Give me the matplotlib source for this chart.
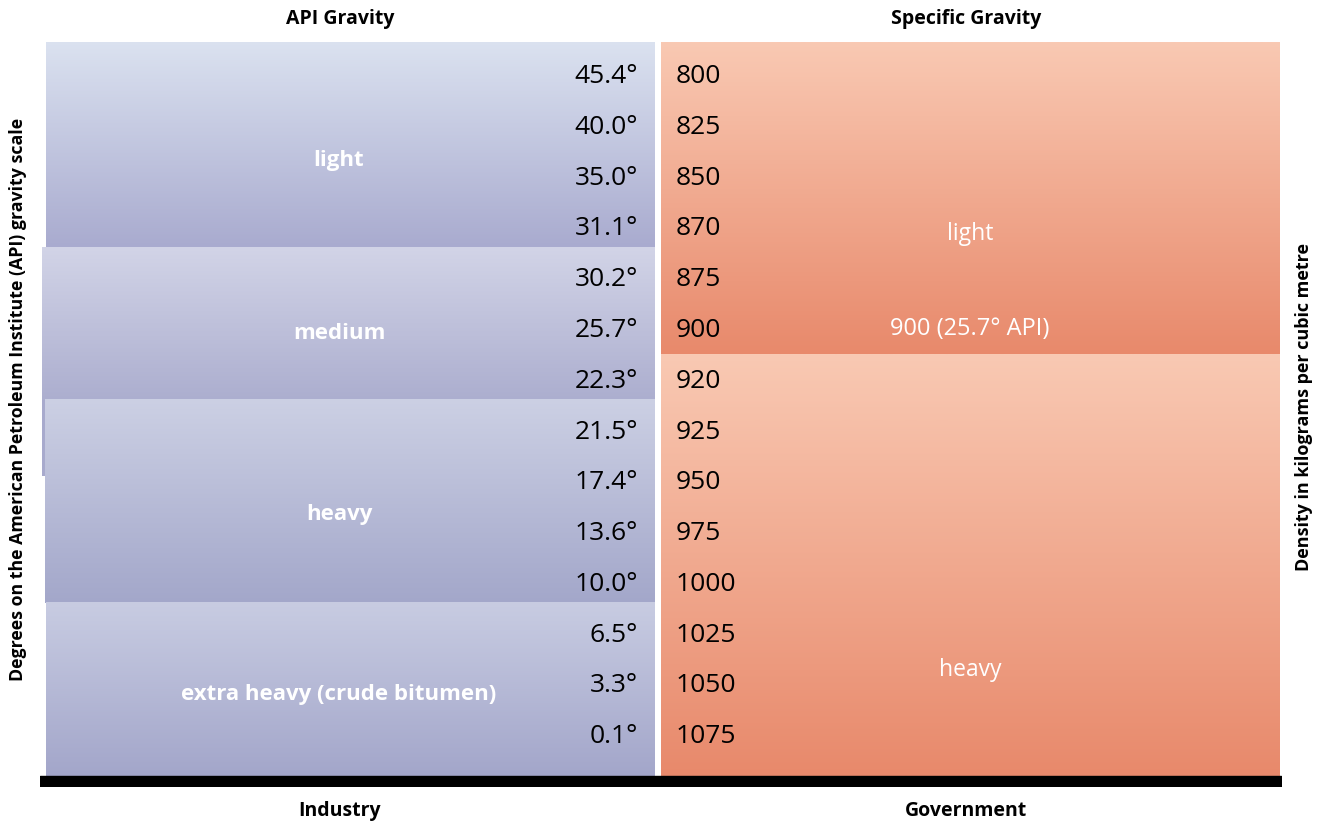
import numpy as np
import matplotlib.pyplot as plt
from matplotlib.colors import LinearSegmentedColormap

# row values, top to bottom
api_values = ['45.4°', '40.0°', '35.0°', '31.1°', '30.2°', '25.7°', '22.3°',
              '21.5°', '17.4°', '13.6°', '10.0°', '6.5°', '3.3°', '0.1°']
density_values = ['800', '825', '850', '870', '875', '900', '920',
                  '925', '950', '975', '1000', '1025', '1050', '1075']

# API classes: (label, first row, last row)
api_classes = ['light', 'medium', 'heavy', 'extra heavy (crude bitumen)']
api_first_row = [0, 4, 7, 11]
api_last_row = [3, 6, 10, 13]

# government classes
gov_classes = ['light', 'heavy']
gov_first_row = [0, 6]
gov_last_row = [5, 13]
gov_boundary_note = '900 (25.7° API)'

plt.rcParams['font.family'] = ['Open Sans', 'DejaVu Sans']

W, H = 1320, 824
fig = plt.figure(figsize=(W / 100, H / 100), dpi=100)
ax = fig.add_axes([40 / W, 1 - 786 / H, 1241 / W, 744 / H])
top, bottom = -0.61, 14.04
floor = 13.84
ax.set_xlim(0, 1241)
ax.set_ylim(bottom, top)
ax.axis('off')

grad = np.linspace(0, 1, 256).reshape(-1, 1)


def gradient_block(x0, x1, y0, y1, c_top, c_bot, z=1):
    cmap = LinearSegmentedColormap.from_list('g', [c_top, c_bot])
    ax.imshow(grad, cmap=cmap, extent=(x0, x1, y1, y0), aspect='auto',
              interpolation='bilinear', zorder=z)


def edge(first, last, shift):
    # block boundaries sit a bit off the midpoint between rows
    y0 = top if first == 0 else first - 1 + shift
    y1 = floor if last == len(api_values) - 1 else last + shift
    return y0, y1


# left column blocks
left_tops = ['#dbe2f0', '#d2d4e7', '#ccd0e4', '#c8cce2']
left_bots = ['#a9abcf', '#acaecf', '#a3a7ca', '#a3a6ca']
left_x0 = [6, 2, 5, 6]
label_nudge = [0.32, 0.2, 0.26, 0.1]
for i, lab in enumerate(api_classes):
    y0, y1 = edge(api_first_row[i], api_last_row[i], 0.43)
    gradient_block(left_x0[i], 615, y0, y1, left_tops[i], left_bots[i], z=1 + i)
    ax.text(299, (y0 + y1) / 2 + label_nudge[i], lab, color='white', fontsize=16,
            fontweight='bold', ha='center', va='center', zorder=10)

# the medium block peeks out a little below its neighbour
ax.fill_between([2, 5], 6.43, 7.93, color='#a8aacd', lw=0, zorder=1)

# right column blocks
for i, lab in enumerate(gov_classes):
    y0, y1 = edge(gov_first_row[i], gov_last_row[i], 0.55)
    gradient_block(621, 1240, y0, y1, '#f9c9b3', '#e8896b', z=1)
ax.text(930, 3.17, gov_classes[0], color='white', fontsize=16.5,
        ha='center', va='center', zorder=10)
ax.text(930, 11.75, gov_classes[1], color='white', fontsize=16.5,
        ha='center', va='center', zorder=10)
ax.text(930, 5.05, gov_boundary_note, color='white', fontsize=17,
        ha='center', va='center', zorder=10)

# row values
for i, (a, d) in enumerate(zip(api_values, density_values)):
    ax.text(598, i + 0.07, a, fontsize=19, ha='right', va='center', color='black', zorder=10)
    ax.text(636, i + 0.07, d, fontsize=19, ha='left', va='center', color='black', zorder=10)

# black baseline
ax.fill_between([0, 1241], floor, bottom, color='black', zorder=12)

# headers and footers
fig.text(340 / W, 1 - 19 / H, 'API Gravity', fontsize=14, fontweight='bold',
         ha='center', va='center')
fig.text(966 / W, 1 - 19 / H, 'Specific Gravity', fontsize=14, fontweight='bold',
         ha='center', va='center')
fig.text(340 / W, 1 - 811 / H, 'Industry', fontsize=14, fontweight='bold',
         ha='center', va='center')
fig.text(966 / W, 1 - 811 / H, 'Government', fontsize=14, fontweight='bold',
         ha='center', va='center')
fig.text(18 / W, 1 - 399 / H,
         'Degrees on the American Petroleum Institute (API) gravity scale',
         fontsize=12.8, fontweight='bold', rotation=90, ha='center', va='center')
fig.text(1304 / W, 1 - 407 / H, 'Density in kilograms per cubic metre',
         fontsize=13, fontweight='bold', rotation=90, ha='center', va='center')

fig.savefig('out.png', dpi=100, facecolor='white')
